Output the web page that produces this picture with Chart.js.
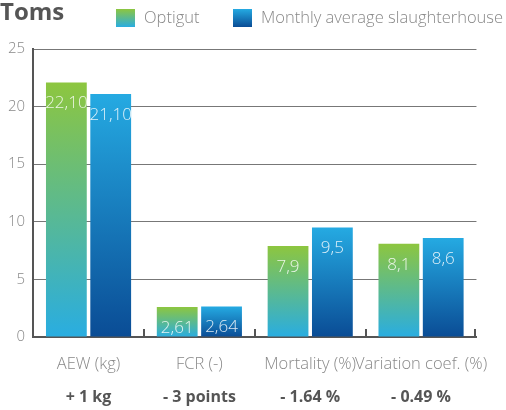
<!DOCTYPE html>
<html>
<head>
<meta charset="utf-8">
<script src="https://cdn.jsdelivr.net/npm/chart.js"></script>
<style>
  html, body { margin: 0; padding: 0; background: #fff; }
  #wrap { position: relative; width: 506px; height: 410px; }
  #title { position: absolute; left: 0; top: -6px; font: bold 24px "Open Sans", sans-serif; color: #555; }
  .key { position: absolute; top: 9px; width: 19px; height: 18px; }
  .keyText { position: absolute; top: 7px; font: 300 16.5px "Open Sans", sans-serif; color: #888; line-height: 20px; white-space: nowrap; }
</style>
</head>
<body>
<div id="wrap">
  <div id="title">Toms</div>
  <div id="legend"></div>
  <canvas id="myChart" width="506" height="410"></canvas>
</div>
<script>
  const categories = ['AEW (kg)', 'FCR (-)', 'Mortality (%)', 'Variation coef. (%)'];
  const differences = ['+ 1 kg', '- 3 points', '- 1.64 %', '- 0.49 %'];
  const optigut = [22.10, 2.61, 7.9, 8.1];
  const optigutText = ['22,10', '2,61', '7,9', '8,1'];
  const slaughterhouse = [21.10, 2.64, 9.5, 8.6];
  const slaughterhouseText = ['21,10', '2,64', '9,5', '8,6'];
  const yTicks = [0, 5, 10, 15, 20, 25];

  const LIGHT = '"Open Sans", sans-serif';
  const greenTop = '#8dc63f', greenBottom = '#29ade1';
  const blueTop = '#25aae2', blueBottom = '#0a4c95';

  // gradient per bar, from its own top down to zero
  function barGradient(top, bottom) {
    return (context) => {
      const chart = context.chart;
      const y = chart.scales.y;
      if (!y || typeof context.raw !== 'number') return bottom;
      const y0 = y.getPixelForValue(context.raw);
      const y1 = y.getPixelForValue(0);
      if (!isFinite(y0) || !isFinite(y1) || y0 === y1) return bottom;
      const g = chart.ctx.createLinearGradient(0, y0, 0, y1);
      g.addColorStop(0, top);
      g.addColorStop(1, bottom);
      return g;
    };
  }

  const valueLabels = {
    id: 'valueLabels',
    afterDatasetsDraw(chart) {
      const ctx = chart.ctx;
      const texts = [optigutText, slaughterhouseText];
      ctx.save();
      ctx.font = '300 17px ' + LIGHT;
      ctx.fillStyle = 'rgba(255,255,255,0.85)';
      ctx.textAlign = 'center';
      ctx.textBaseline = 'middle';
      chart.data.datasets.forEach((ds, di) => {
        chart.getDatasetMeta(di).data.forEach((bar, i) => {
          ctx.fillText(texts[di][i], bar.x, bar.y + 21);
        });
      });
      ctx.restore();
    }
  };

  // short tick marks standing up from the baseline between categories
  const innerTicks = {
    id: 'innerTicks',
    afterDraw(chart) {
      const x = chart.scales.x;
      const base = chart.scales.y.getPixelForValue(0);
      const ctx = chart.ctx;
      ctx.save();
      ctx.strokeStyle = '#555';
      ctx.lineWidth = 2;
      for (let i = 1; i <= categories.length; i++) {
        const px = Math.round(x.getPixelForDecimal(i / categories.length)) - (i === categories.length ? 1 : 0);
        ctx.beginPath();
        ctx.moveTo(px, base);
        ctx.lineTo(px, base - 8);
        ctx.stroke();
      }
      ctx.restore();
    }
  };

  const chart = new Chart(document.getElementById('myChart'), {
    type: 'bar',
    data: {
      labels: categories,
      datasets: [
        {
          label: 'Optigut',
          data: optigut,
          backgroundColor: barGradient(greenTop, greenBottom),
          categoryPercentage: 0.8,
          barPercentage: 0.92
        },
        {
          label: 'Monthly average slaughterhouse',
          data: slaughterhouse,
          backgroundColor: barGradient(blueTop, blueBottom),
          categoryPercentage: 0.8,
          barPercentage: 0.92
        }
      ]
    },
    options: {
      responsive: false,
      animation: false,
      layout: { padding: { left: 0, right: 15, top: 49, bottom: 0 } },
      plugins: {
        tooltip: { enabled: false },
        legend: { display: false }
      },
      scales: {
        x: {
          grid: { display: false, drawTicks: false },
          border: { display: true, color: '#555', width: 2 },
          afterFit(scale) { scale.height = 36; },
          ticks: {
            color: '#888',
            padding: 17,
            maxRotation: 0,
            autoSkip: false,
            font: { family: LIGHT, size: 16.5, weight: '300' }
          }
        },
        x2: {
          type: 'category',
          labels: differences,
          position: 'bottom',
          offset: true,
          grid: { display: false, drawTicks: false },
          border: { display: false },
          afterFit(scale) { scale.height = 37; },
          ticks: {
            color: '#555',
            padding: 15,
            maxRotation: 0,
            autoSkip: false,
            font: { family: LIGHT, size: 16, weight: 'bold' }
          }
        },
        y: {
          min: 0,
          max: 25,
          afterBuildTicks(axis) { axis.ticks = yTicks.map(v => ({ value: v })); },
          grid: { color: '#777', lineWidth: 1, drawTicks: false },
          border: { display: true, color: '#555', width: 2 },
          ticks: {
            color: '#888',
            padding: 8,
            font: { family: LIGHT, size: 15, weight: '300' }
          }
        }
      }
    },
    plugins: [valueLabels, innerTicks]
  });

  // legend built from the datasets
  const legendEl = document.getElementById('legend');
  const keyLeft = [116, 233];
  const keyColors = [[greenTop, greenBottom], [blueTop, blueBottom]];
  chart.data.datasets.forEach((ds, i) => {
    const box = document.createElement('div');
    box.className = 'key';
    box.style.left = keyLeft[i] + 'px';
    box.style.background = 'linear-gradient(' + keyColors[i][0] + ',' + keyColors[i][1] + ')';
    const txt = document.createElement('div');
    txt.className = 'keyText';
    txt.style.left = (keyLeft[i] + 28) + 'px';
    txt.textContent = ds.label;
    legendEl.appendChild(box);
    legendEl.appendChild(txt);
  });
</script>
</body>
</html>
